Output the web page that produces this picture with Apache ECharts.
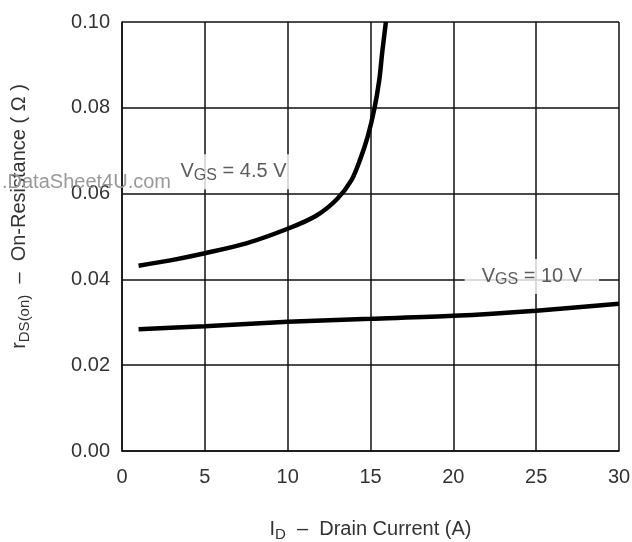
<!DOCTYPE html>
<html>
<head>
<meta charset="utf-8">
<script src="https://cdn.jsdelivr.net/npm/echarts@6/dist/echarts.min.js"></script>
<style>html,body{margin:0;padding:0;background:#fff}#c{width:632px;height:542px}</style>
</head>
<body>
<div id="c"></div>
<script>
// Drain current (A) and on-resistance (ohm) for VGS = 4.5 V
var id45 = [1, 3, 5, 7.5, 10, 11.75, 13, 13.86, 14.36, 14.83, 15.23, 15.53, 15.71, 15.93];
var r45  = [0.0432, 0.0445, 0.0461, 0.0484, 0.0518, 0.0549, 0.0588, 0.0632, 0.0678, 0.0733, 0.0797, 0.0865, 0.0930, 0.1000];
// VGS = 10 V
var id10 = [1, 5, 10, 15, 20, 25, 30];
var r10  = [0.0284, 0.0291, 0.0301, 0.0308, 0.0315, 0.0327, 0.0343];
// annotations
var labelText = ['4.5 V', '10 V'];
var labelId = [6.73, 24.74];
var labelR = [0.0651, 0.0407];

var FONT = 'Liberation Sans, Arial, sans-serif';
var TXT = '#333';
function pairs(xs, ys){ return xs.map(function(x,i){ return [x, ys[i]]; }); }

var chart = echarts.init(document.getElementById('c'));
chart.setOption({
  animation: false,
  backgroundColor: '#fff',
  grid: {left: 122, right: 13, top: 22, bottom: 91, show: false, containLabel: false, outerBoundsMode: 'none'},
  xAxis: {
    type: 'value', min: 0, max: 30, interval: 5,
    axisLine: {show: true, lineStyle: {color: '#111', width: 1.5}},
    axisTick: {show: false},
    splitLine: {show: true, lineStyle: {color: '#111', width: 1.5}},
    axisLabel: {color: TXT, fontSize: 20, fontFamily: FONT, margin: 16},
    name: '{m|I}{s|D}{m|  \u2013  Drain Current (A)}',
    nameLocation: 'middle', nameGap: 66,
    nameTextStyle: {rich: {
      m: {fontSize: 20, fontFamily: FONT, color: TXT},
      s: {fontSize: 15, fontFamily: FONT, color: TXT, padding: [10,0,0,0]}
    }}
  },
  yAxis: {
    type: 'value', min: 0, max: 0.1, interval: 0.02,
    axisLine: {show: true, lineStyle: {color: '#111', width: 1.5}},
    axisTick: {show: false},
    splitLine: {show: true, lineStyle: {color: '#111', width: 1.5}},
    axisLabel: {color: TXT, fontSize: 20, fontFamily: FONT, margin: 12,
      formatter: function(v){ return v.toFixed(2); }},
    name: '{m|r}{s|DS(on)}{m|  \u2013  On-Resistance ( \u03A9 )}',
    nameLocation: 'middle', nameGap: 90, nameRotate: 90,
    nameTextStyle: {padding: [0,0,0,40], rich: {
      m: {fontSize: 20, fontFamily: FONT, color: TXT},
      s: {fontSize: 15, fontFamily: FONT, color: TXT, padding: [10,0,0,0]}
    }}
  },
  series: [
    {type: 'line', data: pairs(id45, r45), smooth: 0.3, symbol: 'none',
     lineStyle: {color: '#000', width: 4.5}, z: 3},
    {type: 'line', data: pairs(id10, r10), smooth: 0.3, symbol: 'none',
     lineStyle: {color: '#000', width: 4.5}, z: 3},
    {type: 'scatter', symbolSize: 0, z: 10, zlevel: 1,
     data: labelId.map(function(x,i){ return {value: [x, labelR[i]], t: labelText[i]}; }),
     label: {show: true, position: 'inside',
       formatter: function(p){ return '{m|V}{s|GS}{m| = ' + p.data.t + '}'; },
       backgroundColor: '#fff', padding: [6, 17, 6, 17],
       rich: {
         m: {fontSize: 20, fontFamily: FONT, color: TXT},
         s: {fontSize: 16, fontFamily: FONT, color: TXT, padding: [7,0,0,0]}
       }}
    }
  ],
  graphic: [{
    type: 'text', left: 2, top: 172, z: 100, zlevel: 2,
    style: {text: '.DataSheet4U.com', fill: '#999', font: '20px ' + FONT}
  }]
});
</script>
</body>
</html>
